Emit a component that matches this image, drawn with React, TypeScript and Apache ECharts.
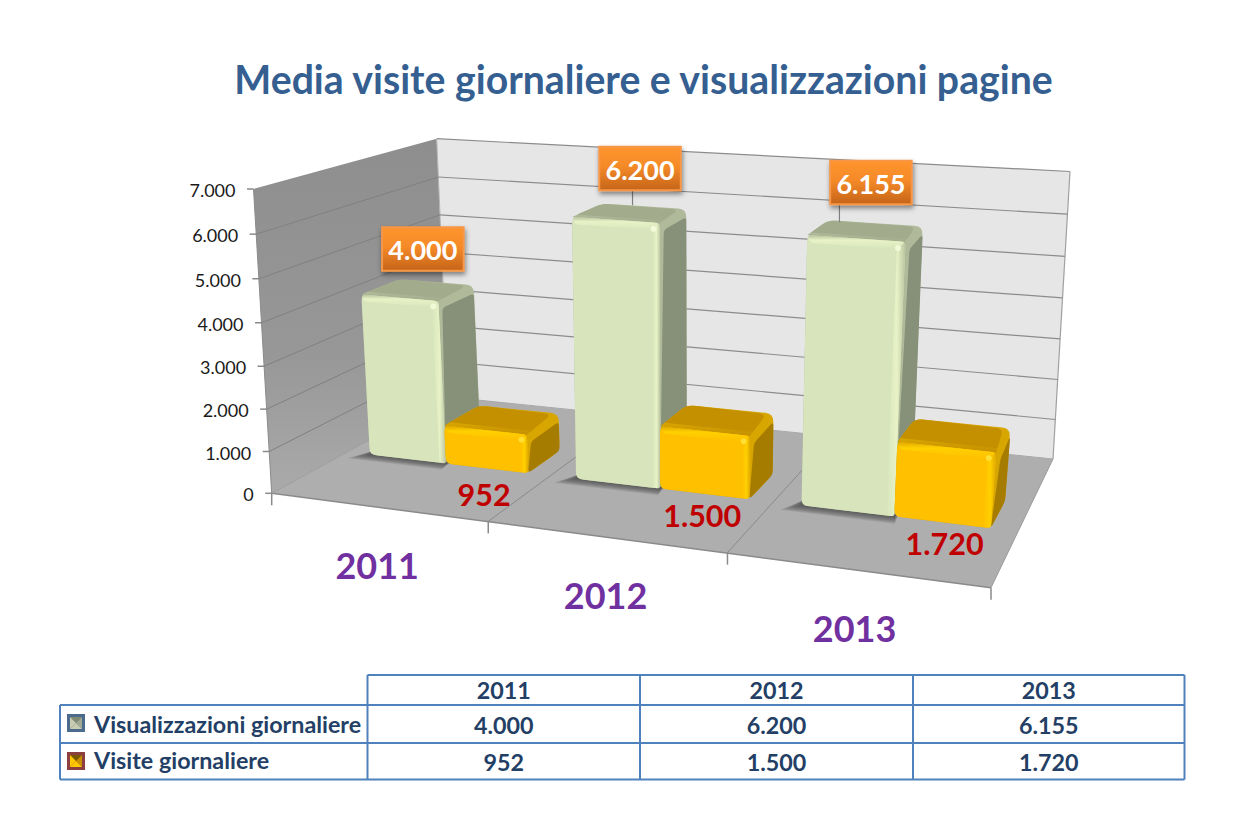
import React, { useEffect, useRef } from "react";
import * as echarts from "echarts";

const categories = ["2011", "2012", "2013"];
const viewsName = "Visualizzazioni giornaliere";
const visitsName = "Visite giornaliere";
const viewsValues = [4000, 6200, 6155];
const visitsValues = [952, 1500, 1720];
const yTicks = [0, 1000, 2000, 3000, 4000, 5000, 6000, 7000];
const titleText = "Media visite giornaliere e visualizzazioni pagine";

const W = 1241, H = 831;
const FONT = "Lato, Carlito, 'Open Sans', sans-serif";
type Pt = [number, number];

// projected corners of the plot box (floor and ceiling)
const floorC: Pt[] = [[271.7, 493.3], [991, 587.7], [1053, 459], [448, 397]];
const ceilC: Pt[] = [[253.5, 189], [1004, 242], [1070, 171.5], [436.7, 138.7]];

function homography(c: Pt[]) {
  const [[x0, y0], [x1, y1], [x2, y2], [x3, y3]] = c;
  const dx1 = x1 - x2, dx2 = x3 - x2, sx = x0 - x1 + x2 - x3;
  const dy1 = y1 - y2, dy2 = y3 - y2, sy = y0 - y1 + y2 - y3;
  const den = dx1 * dy2 - dx2 * dy1;
  const g = (sx * dy2 - dx2 * sy) / den;
  const h = (dx1 * sy - sx * dy1) / den;
  const a = x1 - x0 + g * x1, b = x3 - x0 + h * x3;
  const d = y1 - y0 + g * y1, e = y3 - y0 + h * y3;
  return (u: number, v: number): Pt => {
    const q = g * u + h * v + 1;
    return [(a * u + b * v + x0) / q, (d * u + e * v + y0) / q];
  };
}
const hFloor = homography(floorC);
const hCeil = homography(ceilC);
const smooth = (a: number, b: number, x: number) => {
  const t = Math.min(1, Math.max(0, (x - a) / (b - a)));
  return t * t * (3 - 2 * t);
};
function P(u: number, v: number, w: number): Pt {
  const t = w - 0.045 * w * (1 - w);
  const a = hFloor(u, v), b = hCeil(u, v);
  // the source's lens is not a pure perspective: small sideways correction away from the walls
  const s = smooth(0.1, 0.45, u) * (1 - v * v);
  const bump = s * ((1 - t) * 3.5 * (1 - smooth(0.85, 1, u)) + t * 13);
  return [a[0] + (b[0] - a[0]) * t + bump, a[1] + (b[1] - a[1]) * t];
}

const fmt = (n: number) => String(n).replace(/\B(?=(\d{3})+$)/g, ".");

// bar placement inside a category cell and in depth
const barSlots = { views: [0.116, 0.5], visits: [0.5, 0.893] };
const depth = [0.385, 0.6];
const greenPal = { front: "#d8e5bc", top: "#a2ac8c", side: "#87917a", hi: "#e8f2c6", edge: "#b9c4a0", topHi: "#b0ba9a", corner: "#f4fbd8" };
const goldPal = { front: "#ffc000", top: "#c49000", side: "#a67c00", hi: "#ffd000", edge: "#e0a800", topHi: "#d8a600", corner: "#ffe23a" };

// label offsets relative to the marks they belong to
const calloutDx = [-13, -4, -4];
const calloutGap = [11.5, 16, 19];
const leaderDx = [0, -7.5, -31.5];
const redDx = [-2.5, -2, 2];
const redDy = [26, 21, 21];
const catDx = [1, 0.5, -2.5];

function roundPoly(pts: Pt[], r: number): Pt[] {
  const out: Pt[] = [];
  const n = pts.length;
  for (let i = 0; i < n; i++) {
    const p = pts[i], a = pts[(i + n - 1) % n], b = pts[(i + 1) % n];
    const la = Math.hypot(a[0] - p[0], a[1] - p[1]), lb = Math.hypot(b[0] - p[0], b[1] - p[1]);
    const ra = Math.min(r, la / 2) / la, rb = Math.min(r, lb / 2) / lb;
    const s: Pt = [p[0] + (a[0] - p[0]) * ra, p[1] + (a[1] - p[1]) * ra];
    const e: Pt = [p[0] + (b[0] - p[0]) * rb, p[1] + (b[1] - p[1]) * rb];
    for (let k = 0; k <= 4; k++) {
      const t = k / 4, m = 1 - t;
      out.push([m * m * s[0] + 2 * m * t * p[0] + t * t * e[0], m * m * s[1] + 2 * m * t * p[1] + t * t * e[1]]);
    }
  }
  return out;
}
const poly = (points: Pt[], style: any) => ({ type: "polygon", shape: { points }, style, silent: true });
const lineEl = (a: Pt, b: Pt, stroke: string, lineWidth = 1) => ({
  type: "line", shape: { x1: a[0], y1: a[1], x2: b[0], y2: b[1] }, style: { stroke, lineWidth }, silent: true,
});
const grad = (x2: number, y2: number, stops: [number, string][]) =>
  new echarts.graphic.LinearGradient(0, 0, x2, y2, stops.map(([offset, color]) => ({ offset, color })));

function cellU(api: any, idx: number) {
  const size = api.getWidth();
  const c = api.coord([idx, 0])[0];
  const band = api.size([1, 0])[0];
  return { start: (c - band / 2) / size, width: band / size };
}
const wOf = (api: any, val: number) => 1 - api.coord([0, val])[1] / api.getHeight();

function barItem(slot: number[], pal: typeof greenPal) {
  return (_: any, api: any) => {
    const cat = api.value(0), val = api.value(1);
    const cell = cellU(api, cat);
    const u0 = cell.start + cell.width * slot[0], u1 = cell.start + cell.width * slot[1];
    const w = wOf(api, val), [v0, v1] = depth;
    const FBL = P(u0, v0, 0), FBR = P(u1, v0, 0), FTL = P(u0, v0, w), FTR = P(u1, v0, w);
    const BTL = P(u0, v1, w), BTR = P(u1, v1, w), BBR = P(u1, v1, 0);
    const du = 0.0105, dw = 0.024;
    const iTL = P(u0 + 0.004, v0, w - dw), iTR = P(u1 - du, v0, w - dw), iBR = P(u1 - du, v0, 0);
    const topInL = P(u0, v0 + 0.035, w), topInR = P(u1 - du * 0.2, v0 + 0.035, w);
    const sideA: Pt = [FTR[0] + 4, FTR[1] + 7];
    const sideB: Pt = [BTR[0], BTR[1] + 8];
    const topB: Pt = [BTR[0] - 7, BTR[1] + 0.5];
    const children: any[] = [
      poly(roundPoly([FTL, BTL, BTR, BBR, FBR, FBL], 8), { fill: pal.topHi }),
      poly(roundPoly([sideA, sideB, BBR, FBR], 4), { fill: pal.side }),
      poly(roundPoly([FTL, FTR, topB, BTL], 7), { fill: pal.top }),
      poly([FTL, FTR, topInR, topInL], { fill: grad(0, 1, [[0, pal.topHi], [1, pal.top]]) }),
      poly(roundPoly([FBL, FBR, FTR, FTL], 6), { fill: pal.front }),
      poly(roundPoly([iTL, iTR, FTR, FTL], 4), { fill: grad(0, 1, [[0, pal.edge], [0.35, pal.hi], [1, pal.front]]) }),
      poly(roundPoly([iBR, FBR, FTR, iTR], 3), { fill: grad(1, 0, [[0, pal.front], [0.55, pal.hi], [1, pal.edge]]) }),
      { type: "circle", shape: { cx: iTR[0] + 1, cy: iTR[1] - 1, r: 3 }, style: { fill: pal.corner, opacity: 0.9 }, silent: true },
    ];
    return { type: "group", children };
  };
}

function App() {
  const ref = useRef<HTMLDivElement>(null);
  useEffect(() => {
    const chart = echarts.init(ref.current!, undefined, { renderer: "svg" });

    const frame = (_: any, api: any) => {
      const lf = P(0, 0, 0), lb = P(0, 1, 0), rb = P(1, 1, 0), rf = P(1, 0, 0);
      const tlf = P(0, 0, 1), tlb = P(0, 1, 1), trb = P(1, 1, 1);
      const children: any[] = [
        poly([lf, lb, tlb, tlf], { fill: grad(0, 1, [[0, "#8e8e8e"], [0.6, "#979797"], [1, "#aaaaaa"]]) }),
        poly([lb, rb, trb, tlb], { fill: "#e6e6e6" }),
        poly([lf, rf, rb, lb], { fill: "#aeaeae" }),
        lineEl(tlb, trb, "#8c8c8c", 1.2), lineEl(trb, rb, "#a0a0a0", 1.2),
        lineEl(lb, rb, "#a8a8a8", 1), lineEl(tlb, lb, "#b4b4b4", 1),
        lineEl(lf, rf, "#8a8a8a", 1.5), lineEl(rf, rb, "#9a9a9a", 1),
        lineEl(lf, lb, "#9c9c9c", 1), lineEl(lf, tlf, "#8a8a8a", 1),
      ];
      categories.forEach((_c, i) => {
        const u = cellU(api, i);
        const e = u.start + u.width;
        if (i < categories.length - 1) children.push(lineEl(P(e, 0, 0), P(e, 1, 0), "#8a8a8a", 1));
        const t = P(e, 0, 0);
        children.push(lineEl(t, [t[0], t[1] + 12], "#8a8a8a", 1.5));
      });
      children.push(lineEl(lf, [lf[0], lf[1] + 12], "#8a8a8a", 1.5));
      return { type: "group", children };
    };

    const tickItem = (_: any, api: any) => {
      const val = api.value(1), w = wOf(api, val);
      const a = P(0, 0, w), b = P(0, 1, w), c = P(1, 1, w);
      const children: any[] = [
        lineEl([a[0] - 6.5, a[1]], a, "#8a8a8a", 1.5),
        { type: "text", silent: true, style: { text: fmt(val), x: a[0] - 18, y: a[1] + 1, align: "right", verticalAlign: "middle", fill: "#1a1a1a", fontFamily: FONT, fontSize: 18 } },
      ];
      if (val > 0 && val < 7000) {
        children.push(lineEl(a, b, "#808080", 1), lineEl(b, c, "#8c8c8c", 1.2));
      }
      return { type: "group", children };
    };

    const shadowItem = (_: any, api: any) => {
      const cell = cellU(api, api.value(0));
      const u0 = cell.start + cell.width * barSlots.views[0], u1 = cell.start + cell.width * barSlots.visits[0];
      const children: any[] = [];
      for (let k = 8; k >= 0; k--) {
        const du = 0.0028 * k, dv = 0.0065 * k;
        children.push(poly([
          P(u0 - du, depth[0] - dv, 0), P(u1 + du * 0.3, depth[0] - dv, 0),
          P(u1, depth[0] + 0.1, 0), P(u0, depth[0] + 0.1 - dv, 0),
        ], { fill: "#3c3c3c", opacity: 0.13 }));
      }
      return { type: "group", children };
    };

    const calloutItem = (_: any, api: any) => {
      const i = api.value(0), val = api.value(1);
      const cell = cellU(api, i);
      const u = cell.start + cell.width * (barSlots.views[0] + barSlots.views[1]) / 2;
      const a = P(u, depth[1], wOf(api, val));
      const bw = 81.5, bh = 43.5;
      const cx = a[0] + calloutDx[i], bottom = a[1] - calloutGap[i];
      const children: any[] = [];
      if (leaderDx[i] !== 0) {
        children.push(lineEl([cx + leaderDx[i], bottom], [cx + leaderDx[i], a[1] - 1], "#7f7f7f", 1.2));
      }
      children.push(
        { type: "rect", silent: true, shape: { x: cx - bw / 2, y: bottom - bh, width: bw, height: bh }, style: { fill: grad(0, 1, [[0, "#ff952e"], [0.45, "#f58a28"], [1, "#c5641a"]]), stroke: "#f79646", lineWidth: 2, shadowBlur: 5, shadowColor: "rgba(0,0,0,0.45)", shadowOffsetY: 3, shadowOffsetX: 1 } },
        { type: "text", silent: true, style: { text: fmt(val), x: cx, y: bottom - bh / 2 + 1, align: "center", verticalAlign: "middle", fill: "#ffffff", fontFamily: FONT, fontWeight: "bold", fontSize: 27 } },
      );
      return { type: "group", children };
    };

    const redItem = (_: any, api: any) => {
      const i = api.value(0), val = api.value(1);
      const cell = cellU(api, i);
      const u = cell.start + cell.width * (barSlots.visits[0] + barSlots.visits[1]) / 2;
      const a = P(u, depth[0], 0);
      return { type: "text", silent: true, style: { text: fmt(val), x: a[0] + redDx[i], y: a[1] + redDy[i], align: "center", verticalAlign: "middle", fill: "#c00000", fontFamily: FONT, fontWeight: "bold", fontSize: 30.5 } };
    };

    const catItem = (_: any, api: any) => {
      const i = api.value(0);
      const cell = cellU(api, i);
      const a = P(cell.start + cell.width / 2, 0, 0);
      return { type: "text", silent: true, style: { text: categories[i], x: a[0] + catDx[i], y: a[1] + 58, align: "center", verticalAlign: "middle", fill: "#7030a0", fontFamily: FONT, fontWeight: "bold", fontSize: 36 } };
    };

    // table
    const colX = [60, 367.5, 640, 913, 1184.5];
    const rowY = [675, 705, 743, 779.5];
    const B = "#4f81bd", TXT = "#243f66";
    const tl = (x1: number, y1: number, x2: number, y2: number) => ({ type: "line", silent: true, shape: { x1, y1, x2, y2 }, style: { stroke: B, lineWidth: 2 } });
    const tt = (text: string, x: number, y: number, align = "center") => ({ type: "text", silent: true, style: { text, x, y, align, verticalAlign: "middle", fill: TXT, fontFamily: FONT, fontWeight: "bold", fontSize: 23.3 } });
    const key = (y: number, border: string, c1: string, c2: string, c3: string) => ({
      type: "group", silent: true, children: [
        { type: "rect", shape: { x: 67, y, width: 18, height: 18 }, style: { fill: border } },
        { type: "polygon", shape: { points: [[70, y + 3], [82, y + 3], [76, y + 9]] }, style: { fill: c1 } },
        { type: "polygon", shape: { points: [[70, y + 3], [70, y + 15], [76, y + 9]] }, style: { fill: c2 } },
        { type: "polygon", shape: { points: [[82, y + 3], [82, y + 15], [76, y + 9]] }, style: { fill: c3 } },
        { type: "polygon", shape: { points: [[70, y + 15], [82, y + 15], [76, y + 9]] }, style: { fill: c2 } },
      ],
    });
    const table: any[] = [
      tl(colX[1], rowY[0], colX[4], rowY[0]), tl(colX[0], rowY[1], colX[4], rowY[1]),
      tl(colX[0], rowY[2], colX[4], rowY[2]), tl(colX[0], rowY[3], colX[4], rowY[3]),
      tl(colX[0], rowY[1], colX[0], rowY[3]),
      ...colX.slice(1).map((x) => tl(x, rowY[0], x, rowY[3])),
      key(714, "#4a6a8e", "#7f8a70", "#c8ccb0", "#a0a890"),
      key(752, "#8c3f3f", "#7a5a00", "#ffc800", "#c89000"),
      tt(viewsName, 94, 724, "left"), tt(visitsName, 94, 760, "left"),
    ];
    categories.forEach((c, i) => {
      const x = (colX[i + 1] + colX[i + 2]) / 2;
      table.push(tt(c, x, 690), tt(fmt(viewsValues[i]), x, 724.5), tt(fmt(visitsValues[i]), x, 761.5));
    });

    const views = viewsValues.map((v, i) => [i, v]);
    const visits = visitsValues.map((v, i) => [i, v]);
    const custom = (z: number, data: any[], renderItem: any) => ({ type: "custom", coordinateSystem: "cartesian2d", clip: false, z, data, renderItem, silent: true });

    chart.setOption({
      animation: false,
      backgroundColor: "#ffffff",
      grid: { left: 0, top: 0, right: 0, bottom: 0 },
      xAxis: { type: "category", data: categories, show: false },
      yAxis: { type: "value", min: 0, max: 7000, interval: 1000, show: false },
      graphic: {
        elements: [
          { type: "text", silent: true, z: 20, style: { text: titleText, x: 643.5, y: 78, align: "center", verticalAlign: "middle", fill: "#365f91", fontFamily: FONT, fontWeight: "bold", fontSize: 39.2 } },
          { type: "group", z: 20, silent: true, children: table },
        ],
      },
      series: [
        custom(1, [[0, 0]], frame),
        custom(2, yTicks.map((t) => [0, t]), tickItem),
        custom(3, views, shadowItem),
        custom(4, views, barItem(barSlots.views, greenPal)),
        custom(5, visits, barItem(barSlots.visits, goldPal)),
        custom(6, views, calloutItem),
        custom(6, visits, redItem),
        custom(6, views, catItem),
      ],
    });
    return () => chart.dispose();
  }, []);
  return <div ref={ref} style={{ position: "absolute", left: 0, top: 0, width: W, height: H }} />;
}

export default App;
